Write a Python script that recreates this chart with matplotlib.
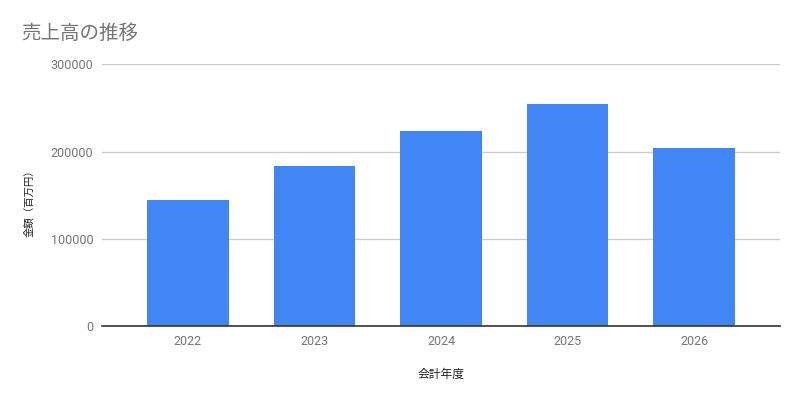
import matplotlib
matplotlib.use("Agg")
import matplotlib.pyplot as plt

years = ["2022", "2023", "2024", "2025", "2026"]
sales = [145000, 184000, 224000, 255000, 204000]
yticks = [0, 100000, 200000, 300000]

title = "売上高の推移"
xlabel = "会計年度"
ylabel = "金額（百万円）"

JP = ["Noto Sans CJK JP", "DejaVu Sans"]
NUM = ["Roboto", "DejaVu Sans"]

fig = plt.figure(figsize=(8, 4), dpi=100)
ax = fig.add_axes([101.7/800, 1-326.3/400, (780.3-101.7)/800, (326.3-64.5)/400])

x = list(range(len(years)))
ax.bar(x, sales, width=0.645, color="#4285F4", zorder=3)
ax.set_xlim(-0.68, len(years) - 1 + 0.68)
ax.set_ylim(0, 300000)
ax.set_yticks(yticks)
ax.set_yticklabels([str(v) for v in yticks], family=NUM, fontsize=9, color="#757575")
ax.set_xticks(x)
ax.set_xticklabels(years, family=NUM, fontsize=9, color="#757575")
ax.tick_params(axis="both", length=0)
ax.tick_params(axis="y", pad=6)
ax.tick_params(axis="x", pad=6)
ax.grid(axis="y", color="#cccccc", linewidth=1, zorder=0)
for s in ["top", "right", "left"]:
    ax.spines[s].set_visible(False)
ax.spines["bottom"].set_color("#333333")
ax.spines["bottom"].set_linewidth(1.2)
ax.spines["bottom"].set_zorder(4)

fig.text(21/800, 1-33/400, title, family=JP, fontsize=14, color="#757575",
         ha="left", va="center")
fig.text(441/800, 1-374/400, xlabel, family=JP, fontsize=8.5, color="#222222",
         ha="center", va="center")
fig.text(29.5/800, 1-201/400, ylabel, family=JP, fontsize=7.5, color="#222222",
         ha="center", va="center", rotation=90)

fig.savefig("out.png", dpi=100)
